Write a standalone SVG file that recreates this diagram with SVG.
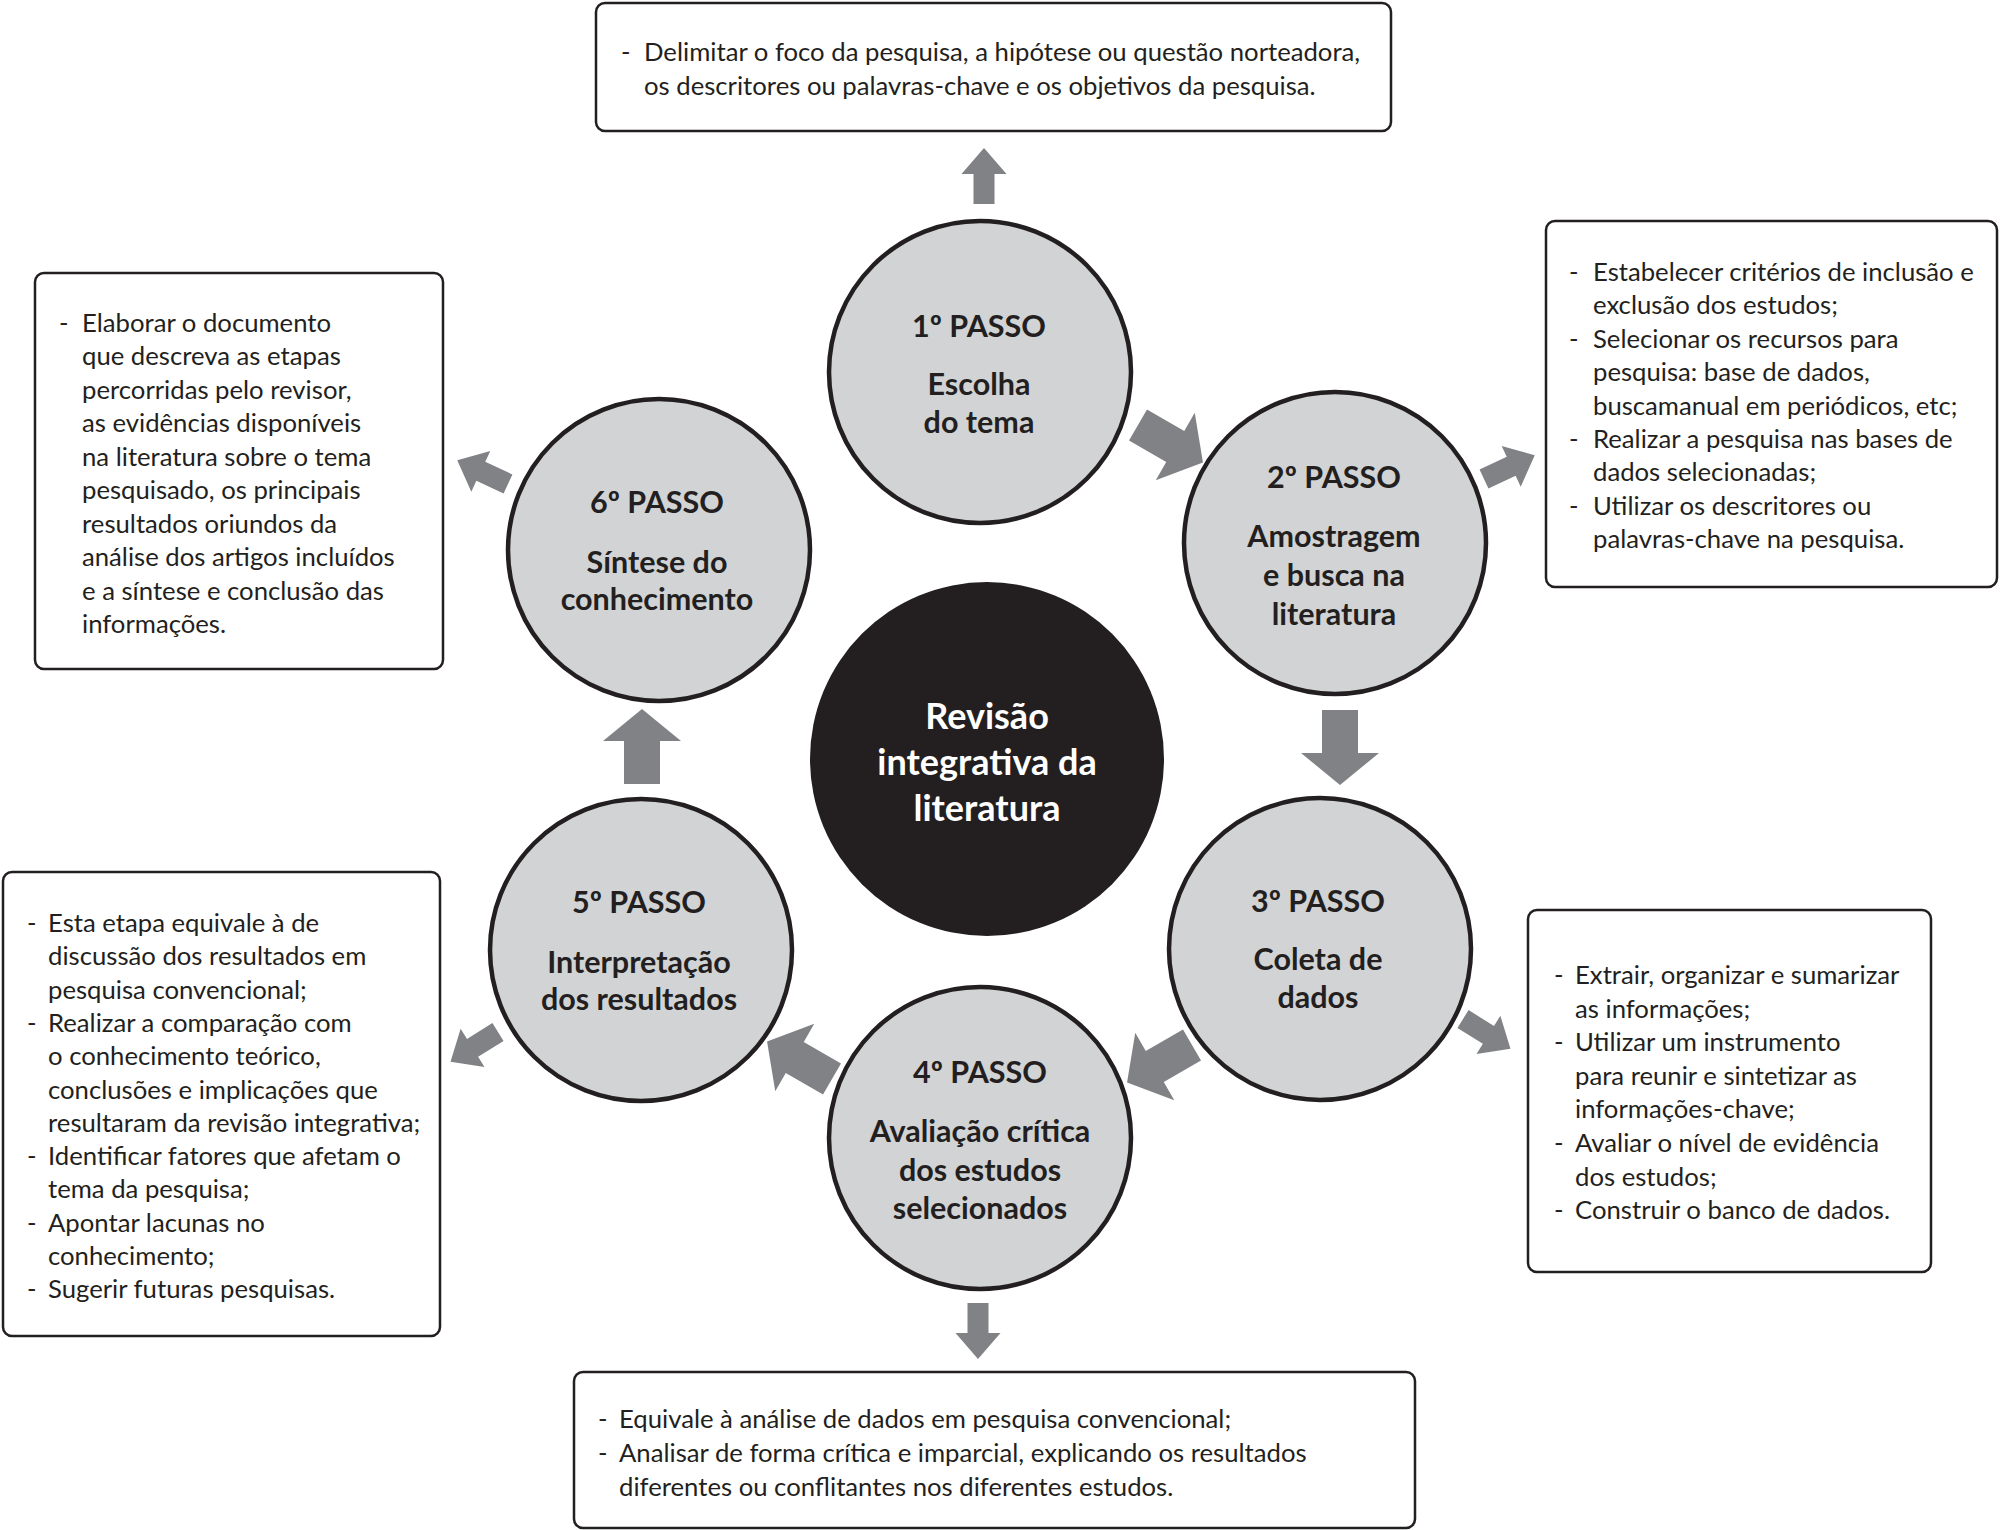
<svg xmlns="http://www.w3.org/2000/svg" width="2000" height="1530" viewBox="0 0 2000 1530">
<style>
.step{fill:#d1d3d4;stroke:#231f20;stroke-width:4.5}
.hub{fill:#231f20}
.box{fill:#ffffff;stroke:#231f20;stroke-width:2.5}
.arr{fill:#808285}
.st{font-family:Lato,"Open Sans",sans-serif;font-weight:700;font-size:30.5px;fill:#231f20;text-anchor:middle}
.ht{font-family:Lato,"Open Sans",sans-serif;font-weight:700;font-size:36px;fill:#ffffff;text-anchor:middle}
.bt{font-family:Lato,"Open Sans",sans-serif;font-size:25.7px;fill:#231f20}
</style>
<defs>
<path id="big" d="M0,-18 L43,-18 L43,-39 L75,0 L43,39 L43,18 L0,18 Z"/>
<path id="small" d="M0,-10.5 L30,-10.5 L30,-22.5 L56,0 L30,22.5 L30,10.5 L0,10.5 Z"/>
</defs>
<rect width="2000" height="1530" fill="#ffffff"/>

<g id="connectors" class="arr">
<use href="#small" transform="translate(984,204) rotate(-90)"/>
<use href="#big" transform="translate(1138,425) rotate(30)"/>
<use href="#small" transform="translate(1484,479) rotate(-25)"/>
<use href="#big" transform="translate(1340,710) rotate(90)"/>
<use href="#small" transform="translate(1463,1019) rotate(32)"/>
<use href="#big" transform="translate(1192,1045) rotate(150)"/>
<use href="#small" transform="translate(978,1303) rotate(90)"/>
<use href="#big" transform="translate(832,1079) rotate(210)"/>
<use href="#small" transform="translate(498,1032) rotate(148)"/>
<use href="#big" transform="translate(642,784) rotate(-90)"/>
<use href="#small" transform="translate(508,484) rotate(205)"/>
</g>

<g id="hub">
<circle class="hub" cx="987" cy="759" r="177"/>
<text class="ht" x="987" y="729">Revisão</text>
<text class="ht" x="987" y="775">integrativa da</text>
<text class="ht" x="987" y="821">literatura</text>
</g>

<g id="step1">
<circle class="step" cx="980" cy="372" r="151"/>
<text class="st" x="979" y="337">1º PASSO</text>
<text class="st" x="979" y="395">Escolha</text>
<text class="st" x="979" y="433">do tema</text>
</g>
<g id="step2">
<circle class="step" cx="1335" cy="543" r="151"/>
<text class="st" x="1334" y="488">2º PASSO</text>
<text class="st" x="1334" y="547">Amostragem</text>
<text class="st" x="1334" y="586">e busca na</text>
<text class="st" x="1334" y="625">literatura</text>
</g>
<g id="step3">
<circle class="step" cx="1320" cy="949" r="151"/>
<text class="st" x="1318" y="912">3º PASSO</text>
<text class="st" x="1318" y="970">Coleta de</text>
<text class="st" x="1318" y="1008">dados</text>
</g>
<g id="step4">
<circle class="step" cx="980" cy="1138" r="151"/>
<text class="st" x="980" y="1083">4º PASSO</text>
<text class="st" x="980" y="1142">Avaliação crítica</text>
<text class="st" x="980" y="1181">dos estudos</text>
<text class="st" x="980" y="1219">selecionados</text>
</g>
<g id="step5">
<circle class="step" cx="641" cy="950" r="151"/>
<text class="st" x="639" y="913">5º PASSO</text>
<text class="st" x="639" y="973">Interpretação</text>
<text class="st" x="639" y="1010">dos resultados</text>
</g>
<g id="step6">
<circle class="step" cx="659" cy="550" r="151"/>
<text class="st" x="657" y="513">6º PASSO</text>
<text class="st" x="657" y="573">Síntese do</text>
<text class="st" x="657" y="610">conhecimento</text>
</g>

<g id="box1">
<rect class="box" x="596" y="3" width="795" height="128" rx="9"/>
<text class="bt" x="621" y="61">-</text>
<text class="bt" x="644" y="61">Delimitar o foco da pesquisa, a hipótese ou questão norteadora,</text>
<text class="bt" x="644" y="95">os descritores ou palavras-chave e os objetivos da pesquisa.</text>
</g>

<g id="box2">
<rect class="box" x="1546" y="221" width="451" height="366" rx="9"/>
<text class="bt" x="1569" y="281">-</text>
<text class="bt" x="1593" y="281">Estabelecer critérios de inclusão e</text>
<text class="bt" x="1593" y="314">exclusão dos estudos;</text>
<text class="bt" x="1569" y="348">-</text>
<text class="bt" x="1593" y="348">Selecionar os recursos para</text>
<text class="bt" x="1593" y="381">pesquisa: base de dados,</text>
<text class="bt" x="1593" y="415">buscamanual em periódicos, etc;</text>
<text class="bt" x="1569" y="448">-</text>
<text class="bt" x="1593" y="448">Realizar a pesquisa nas bases de</text>
<text class="bt" x="1593" y="481">dados selecionadas;</text>
<text class="bt" x="1569" y="515">-</text>
<text class="bt" x="1593" y="515">Utilizar os descritores ou</text>
<text class="bt" x="1593" y="548">palavras-chave na pesquisa.</text>
</g>

<g id="box3">
<rect class="box" x="1528" y="910" width="403" height="362" rx="9"/>
<text class="bt" x="1554" y="984">-</text>
<text class="bt" x="1575" y="984">Extrair, organizar e sumarizar</text>
<text class="bt" x="1575" y="1018">as informações;</text>
<text class="bt" x="1554" y="1051">-</text>
<text class="bt" x="1575" y="1051">Utilizar um instrumento</text>
<text class="bt" x="1575" y="1085">para reunir e sintetizar as</text>
<text class="bt" x="1575" y="1118">informações-chave;</text>
<text class="bt" x="1554" y="1152">-</text>
<text class="bt" x="1575" y="1152">Avaliar o nível de evidência</text>
<text class="bt" x="1575" y="1186">dos estudos;</text>
<text class="bt" x="1554" y="1219">-</text>
<text class="bt" x="1575" y="1219">Construir o banco de dados.</text>
</g>

<g id="box4">
<rect class="box" x="574" y="1372" width="841" height="156" rx="9"/>
<text class="bt" x="598" y="1428">-</text>
<text class="bt" x="619" y="1428">Equivale à análise de dados em pesquisa convencional;</text>
<text class="bt" x="598" y="1462">-</text>
<text class="bt" x="619" y="1462">Analisar de forma crítica e imparcial, explicando os resultados</text>
<text class="bt" x="619" y="1496">diferentes ou conflitantes nos diferentes estudos.</text>
</g>

<g id="box5">
<rect class="box" x="3" y="872" width="437" height="464" rx="9"/>
<text class="bt" x="27" y="932">-</text>
<text class="bt" x="48" y="932">Esta etapa equivale à de</text>
<text class="bt" x="48" y="965">discussão dos resultados em</text>
<text class="bt" x="48" y="999">pesquisa convencional;</text>
<text class="bt" x="27" y="1032">-</text>
<text class="bt" x="48" y="1032">Realizar a comparação com</text>
<text class="bt" x="48" y="1065">o conhecimento teórico,</text>
<text class="bt" x="48" y="1099">conclusões e implicações que</text>
<text class="bt" x="48" y="1132">resultaram da revisão integrativa;</text>
<text class="bt" x="27" y="1165">-</text>
<text class="bt" x="48" y="1165">Identificar fatores que afetam o</text>
<text class="bt" x="48" y="1198">tema da pesquisa;</text>
<text class="bt" x="27" y="1232">-</text>
<text class="bt" x="48" y="1232">Apontar lacunas no</text>
<text class="bt" x="48" y="1265">conhecimento;</text>
<text class="bt" x="27" y="1298">-</text>
<text class="bt" x="48" y="1298">Sugerir futuras pesquisas.</text>
</g>

<g id="box6">
<rect class="box" x="35" y="273" width="408" height="396" rx="9"/>
<text class="bt" x="59" y="332">-</text>
<text class="bt" x="82" y="332">Elaborar o documento</text>
<text class="bt" x="82" y="365">que descreva as etapas</text>
<text class="bt" x="82" y="399">percorridas pelo revisor,</text>
<text class="bt" x="82" y="432">as evidências disponíveis</text>
<text class="bt" x="82" y="466">na literatura sobre o tema</text>
<text class="bt" x="82" y="499">pesquisado, os principais</text>
<text class="bt" x="82" y="533">resultados oriundos da</text>
<text class="bt" x="82" y="566">análise dos artigos incluídos</text>
<text class="bt" x="82" y="600">e a síntese e conclusão das</text>
<text class="bt" x="82" y="633">informações.</text>
</g>
</svg>
